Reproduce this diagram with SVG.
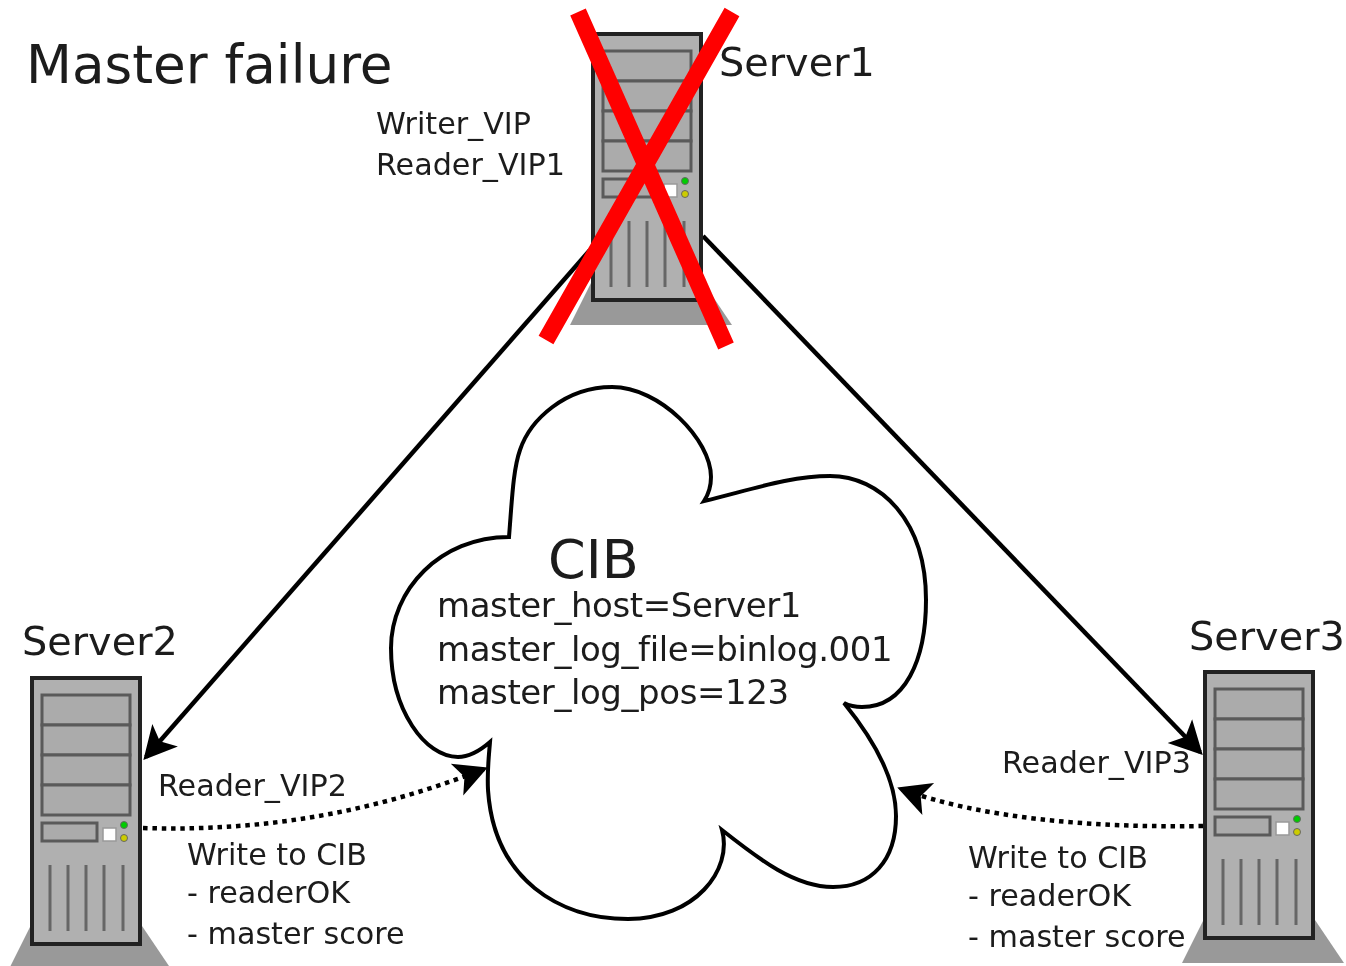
<svg xmlns="http://www.w3.org/2000/svg" width="1346" height="966" viewBox="0 0 1346 966">
<style>
text{font-family:"DejaVu Sans",sans-serif;fill:#1a1a1a}
.t{font-size:53.2px}.n{font-size:39.8px}.s{font-size:30.2px}.c{font-size:34px;letter-spacing:-.42px}.h{font-size:54px}
.tower{fill:#b0b0b0;stroke:#222;stroke-width:4}
.bay{fill:#ababab;stroke:#5a5a5a;stroke-width:3}
.vent{stroke:#666;stroke-width:3;fill:none}
.link{fill:none;stroke:#000;stroke-width:4.5}
.dot{fill:none;stroke:#000;stroke-width:4.5;stroke-dasharray:4.5 4.8}
</style>
<defs>
<filter id="soft" x="0" y="0" width="100%" height="100%"><feGaussianBlur stdDeviation="0.7"/></filter>
<marker id="ah" markerUnits="userSpaceOnUse" markerWidth="50" markerHeight="50" refX="29" refY="20" orient="auto"><path d="M33 20L0 3L8 20L0 37Z" fill="#000"/></marker>
<g id="srv">
<path d="M0 245L-23 291H139L108 245Z" fill="#999"/>
<rect class="tower" width="108" height="266"/>
<rect class="bay" x="10" y="17" width="88" height="30"/>
<rect class="bay" x="10" y="47" width="88" height="30"/>
<rect class="bay" x="10" y="77" width="88" height="30"/>
<rect class="bay" x="10" y="107" width="88" height="30"/>
<rect class="bay" x="10" y="145" width="55" height="18"/>
<rect x="71" y="150" width="13" height="13" fill="#fff" stroke="#999" stroke-width="1.5"/>
<circle cx="92" cy="147" r="3.5" fill="#0c0" stroke="#666" stroke-width="1"/>
<circle cx="92" cy="160" r="3.5" fill="#cc0" stroke="#666" stroke-width="1"/>
<path class="vent" d="M18 187V253M36 187V253M54 187V253M72 187V253M91 187V253"/>
</g>
</defs>
<g filter="url(#soft)">
<rect width="1346" height="966" fill="#fff"/>
<text class="t" x="26" y="83">Master failure</text>
<g id="connectors">
<path class="link" d="M590 250L146 757" marker-end="url(#ah)"/>
<path class="link" d="M703 236L1200 752" marker-end="url(#ah)"/>
<path class="dot" d="M143 828C270 832 380 810 484 769" marker-end="url(#ah)"/>
<path class="dot" d="M1203 826C1090 828 980 818 901 789" marker-end="url(#ah)"/>
</g>
<g id="cloud">
<path d="M509 537C512 500 513 470 520 450C530 420 565 387 612 387C660 387 711 440 711 477C711 485 708 495 704 501C750 490 790 476 830 476C880 476 926 520 926 600C926 660 905 707 862 707C855 707 850 706 844 703C870 735 896 775 896 816C896 860 872 887 833 887C795 887 760 860 722 830C733 870 695 919 628 919C560 919 494 880 488 790C487 770 489 755 490 742C475 755 465 757 458 757C425 757 391 710 391 648C391 590 440 537 509 537Z" fill="#fff" stroke="#000" stroke-width="4"/>
<text class="h" x="548" y="578">CIB</text>
<text class="c" x="437" y="617">master_host=Server1</text>
<text class="c" x="437" y="661">master_log_file=binlog.001</text>
<text class="c" x="437" y="704">master_log_pos=123</text>
</g>
<g id="server1">
<use href="#srv" x="593" y="34"/>
<text class="n" x="719" y="76">Server1</text>
<text class="s" x="376" y="134">Writer_VIP</text>
<text class="s" x="376" y="175">Reader_VIP1</text>
<path d="M578 12L726 346M732 12L546 340" fill="none" stroke="#f00" stroke-width="17"/>
</g>
<g id="server2">
<use href="#srv" x="32" y="678"/>
<text class="n" x="22" y="655">Server2</text>
<text class="s" x="158" y="796">Reader_VIP2</text>
<text class="s" x="187" y="865">Write to CIB</text>
<text class="s" x="187" y="903">- readerOK</text>
<text class="s" x="187" y="944">- master score</text>
</g>
<g id="server3">
<use href="#srv" x="1205" y="672"/>
<text class="n" x="1189" y="650">Server3</text>
<text class="s" x="1002" y="773">Reader_VIP3</text>
<text class="s" x="968" y="868">Write to CIB</text>
<text class="s" x="968" y="906">- readerOK</text>
<text class="s" x="968" y="947">- master score</text>
</g>
</g>
</svg>
